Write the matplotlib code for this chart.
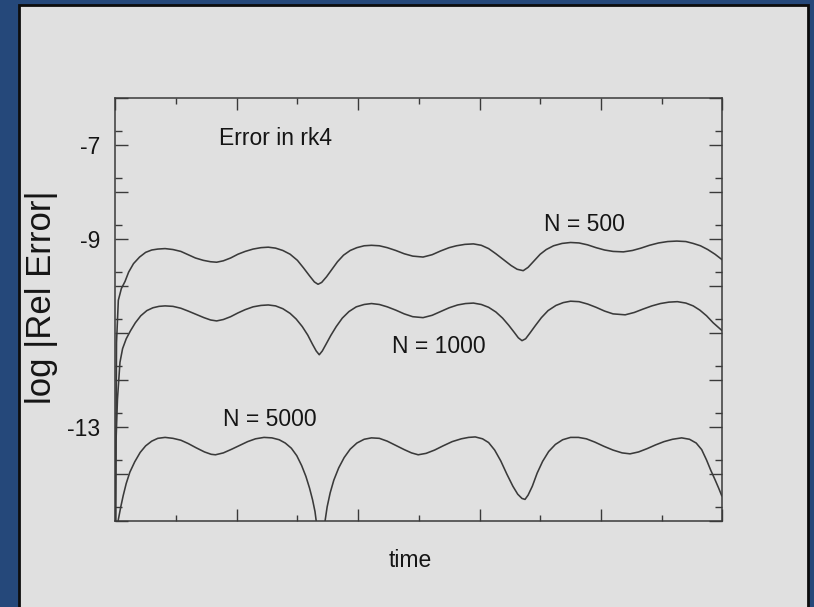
import matplotlib

matplotlib.use("Agg")

import matplotlib.pyplot as plt
import matplotlib.ticker as ticker
from matplotlib.patches import Rectangle

# --- Style ---
plt.rcParams['font.family'] = ['Liberation Sans', 'DejaVu Sans']
FS_TEXT = 16.5
FS_YLABEL = 25
INK = '#151515'
LINE = '#3a3a3a'
PANEL = '#e0e0e0'
BLUE = '#25487a'

# --- Data (time 0..10, log10 of relative error) ---
t_500 = [0.0, 0.02, 0.05, 0.1, 0.16, 0.22, 0.3, 0.4, 0.5, 0.6, 0.7, 0.82, 0.95, 1.08,
         1.2, 1.32, 1.45, 1.57, 1.67, 1.78, 1.9, 2.02, 2.14, 2.27, 2.4, 2.52, 2.64,
         2.76, 2.88, 3.0, 3.1, 3.2, 3.28, 3.34, 3.4, 3.48, 3.57, 3.66, 3.76, 3.87,
         3.98, 4.1, 4.22, 4.35, 4.48, 4.62, 4.76, 4.9, 5.07, 5.22, 5.36, 5.5, 5.62,
         5.76, 5.9, 6.03, 6.15, 6.27, 6.4, 6.52, 6.62, 6.72, 6.8, 6.9, 7.0, 7.1, 7.22,
         7.36, 7.5, 7.64, 7.78, 7.92, 8.06, 8.2, 8.37, 8.52, 8.66, 8.8, 8.95, 9.1,
         9.25, 9.4, 9.52, 9.64, 9.76, 9.88, 9.99]
err_500 = [-16.0, -11.2, -10.3, -10.05, -9.9, -9.7, -9.52, -9.38, -9.28, -9.23, -9.21,
           -9.2, -9.22, -9.26, -9.33, -9.4, -9.45, -9.48, -9.49, -9.46, -9.4, -9.32,
           -9.26, -9.21, -9.18, -9.17, -9.19, -9.24, -9.32, -9.45, -9.61, -9.78, -9.91,
           -9.96, -9.92, -9.8, -9.64, -9.48, -9.34, -9.24, -9.18, -9.14, -9.13, -9.14,
           -9.18, -9.24, -9.31, -9.36, -9.38, -9.33, -9.25, -9.18, -9.14, -9.11, -9.1,
           -9.13, -9.2, -9.31, -9.44, -9.56, -9.64, -9.67, -9.6, -9.46, -9.32, -9.22,
           -9.14, -9.09, -9.07, -9.08, -9.12, -9.18, -9.23, -9.26, -9.27, -9.24, -9.19,
           -9.13, -9.08, -9.05, -9.04, -9.05, -9.09, -9.14, -9.22, -9.32, -9.43]

t_1000 = [0.0, 0.012, 0.036, 0.077, 0.12, 0.18, 0.25, 0.33, 0.42, 0.52, 0.62, 0.72,
          0.82, 0.95, 1.08, 1.2, 1.33, 1.46, 1.57, 1.67, 1.78, 1.9, 2.02, 2.14, 2.27,
          2.4, 2.52, 2.64, 2.76, 2.88, 2.98, 3.08, 3.17, 3.25, 3.31, 3.36, 3.41, 3.47,
          3.55, 3.64, 3.74, 3.85, 3.97, 4.1, 4.22, 4.35, 4.48, 4.62, 4.76, 4.9, 5.07,
          5.22, 5.36, 5.5, 5.64, 5.77, 5.9, 6.03, 6.15, 6.27, 6.38, 6.48, 6.57, 6.64,
          6.7, 6.76, 6.83, 6.92, 7.02, 7.13, 7.26, 7.38, 7.5, 7.64, 7.78, 7.92, 8.06,
          8.2, 8.4, 8.55, 8.69, 8.84, 8.98, 9.12, 9.26, 9.4, 9.52, 9.63, 9.74, 9.85, 9.99]
err_1000 = [-16.0, -13.3, -12.4, -11.62, -11.33, -11.12, -10.95, -10.78, -10.63, -10.52,
            -10.46, -10.43, -10.42, -10.43, -10.47, -10.53, -10.6, -10.67, -10.72, -10.74,
            -10.71, -10.65, -10.57, -10.5, -10.44, -10.41, -10.4, -10.42, -10.48, -10.58,
            -10.7, -10.86, -11.04, -11.24, -11.38, -11.46, -11.38, -11.24, -11.05, -10.86,
            -10.68, -10.54, -10.44, -10.39, -10.37, -10.39, -10.44, -10.51, -10.59, -10.65,
            -10.67, -10.62, -10.54, -10.46, -10.4, -10.37, -10.36, -10.39, -10.45, -10.55,
            -10.68, -10.83, -10.98, -11.1, -11.16, -11.12, -11.0, -10.84, -10.67, -10.52,
            -10.41, -10.35, -10.32, -10.33, -10.38, -10.45, -10.53, -10.59, -10.61, -10.56,
            -10.49, -10.42, -10.37, -10.34, -10.33, -10.36, -10.42, -10.51, -10.63, -10.78,
            -10.94]

t_5000 = [0.03, 0.05, 0.09, 0.13, 0.18, 0.24, 0.32, 0.41, 0.5, 0.6, 0.7, 0.82, 0.95,
          1.08, 1.2, 1.33, 1.47, 1.58, 1.65, 1.78, 1.92, 2.05, 2.18, 2.31, 2.45, 2.58,
          2.7, 2.8, 2.9, 2.99, 3.07, 3.14, 3.2, 3.25, 3.29, 3.32, 3.35, 3.38, 3.42,
          3.45, 3.49, 3.54, 3.6, 3.68, 3.77, 3.87, 3.98, 4.1, 4.22, 4.35, 4.48, 4.62,
          4.76, 4.88, 4.99, 5.12, 5.26, 5.4, 5.55, 5.7, 5.82, 5.93, 6.05, 6.15, 6.25,
          6.35, 6.45, 6.55, 6.63, 6.7, 6.75, 6.8, 6.87, 6.95, 7.04, 7.14, 7.25, 7.37,
          7.5, 7.63, 7.76, 7.9, 8.05, 8.2, 8.35, 8.48, 8.62, 8.76, 8.9, 9.04, 9.18,
          9.33, 9.46, 9.57, 9.66, 9.74, 9.81, 9.88, 9.94, 9.99]
err_5000 = [-15.3, -14.97, -14.7, -14.46, -14.2, -13.96, -13.74, -13.54, -13.4, -13.3,
            -13.24, -13.22, -13.24, -13.28, -13.35, -13.44, -13.53, -13.58, -13.59, -13.55,
            -13.47, -13.39, -13.31, -13.25, -13.22, -13.23, -13.27, -13.34, -13.45, -13.61,
            -13.82, -14.05, -14.3, -14.55, -14.8, -15.1, -15.6, -16.0, -15.6, -15.05,
            -14.7, -14.4, -14.13, -13.87, -13.65, -13.47, -13.34, -13.26, -13.23, -13.24,
            -13.3, -13.39, -13.48, -13.55, -13.59, -13.56, -13.49, -13.4, -13.31, -13.25,
            -13.22, -13.21, -13.25, -13.33, -13.49, -13.72, -14.0, -14.26, -14.43, -14.52,
            -14.54, -14.45, -14.26, -13.98, -13.73, -13.52, -13.37, -13.27, -13.22, -13.22,
            -13.25, -13.32, -13.41, -13.49, -13.55, -13.57, -13.53, -13.46, -13.38, -13.31,
            -13.26, -13.23, -13.26, -13.34, -13.48, -13.7, -13.92, -14.12, -14.3, -14.46]

y_major = [-15, -14, -13, -12, -11, -10, -9, -8, -7, -6]
y_labels = {-7: '-7', -9: '-9', -13: '-13'}
y_minor = [-14.699, -13.699, -12.699, -11.699, -10.699, -9.699, -8.699, -7.699, -6.699]

# --- Figure and panel ---
fig = plt.figure(figsize=(8.14, 6.07), dpi=100, facecolor=BLUE)
fig.patches.append(Rectangle((19 / 814, -0.05), (808 - 19) / 814, 1.05 - 5 / 607,
                             transform=fig.transFigure, facecolor=PANEL,
                             edgecolor='#0d0d0d', linewidth=2, zorder=-10))

ax = fig.add_axes([115.3 / 814, 86 / 607, 607 / 814, 422.7 / 607])
ax.set_zorder(5)
ax.set_facecolor(PANEL)

for t, e in [(t_500, err_500), (t_1000, err_1000), (t_5000, err_5000)]:
    ax.plot(t, e, color=LINE, linewidth=1.15, solid_joinstyle='round')

ax.set_xlim(0, 10)
ax.set_ylim(-15, -6)

# --- Ticks ---
ax.xaxis.set_major_locator(ticker.FixedLocator([0, 2, 4, 6, 8, 10]))
ax.xaxis.set_minor_locator(ticker.FixedLocator([1, 3, 5, 7, 9]))
ax.yaxis.set_major_locator(ticker.FixedLocator(y_major))
ax.yaxis.set_minor_locator(ticker.FixedLocator(y_minor))
ax.yaxis.set_major_formatter(ticker.FuncFormatter(lambda v, p: y_labels.get(int(round(v)), '')))
ax.xaxis.set_major_formatter(ticker.NullFormatter())

ax.tick_params(axis='both', which='both', direction='in', top=True, right=True,
               color=LINE, width=1.0, labelcolor=INK, labelsize=FS_TEXT)
ax.tick_params(axis='y', which='major', length=9.4, pad=11)
ax.tick_params(axis='y', which='minor', length=5)
ax.tick_params(axis='x', which='major', length=8.6)
ax.tick_params(axis='x', which='minor', length=4.3)
for sp in ax.spines.values():
    sp.set_color(LINE)
    sp.set_linewidth(1.1)

# --- Annotations ---
ax.text(1.71, -7.0, 'Error in rk4', fontsize=FS_TEXT, color=INK, va='baseline')
ax.text(7.06, -8.83, 'N = 500', fontsize=FS_TEXT, color=INK, va='baseline')
ax.text(4.56, -11.43, 'N = 1000', fontsize=FS_TEXT, color=INK, va='baseline')
ax.text(1.77, -12.97, 'N = 5000', fontsize=FS_TEXT, color=INK, va='baseline')

fig.text(42 / 814, 1 - 297 / 607, 'log |Rel Error|', rotation=90, fontsize=FS_YLABEL,
         color=INK, ha='center', va='center')
fig.text(410.7 / 814, 1 - 567 / 607, 'time', fontsize=FS_TEXT, color=INK,
         ha='center', va='baseline')

fig.savefig('out.png', dpi=100, facecolor=BLUE)
